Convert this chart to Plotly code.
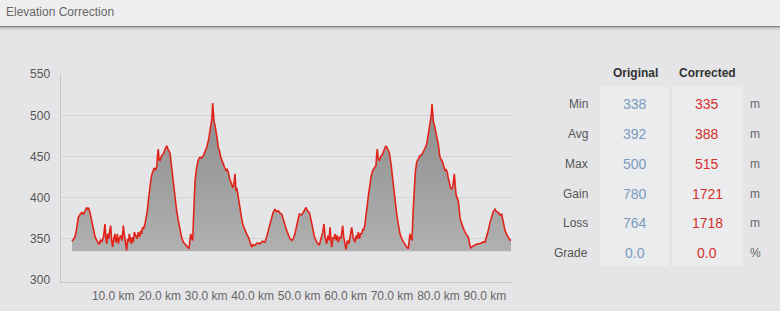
import plotly.graph_objects as go

W, H = 780, 311

# ---- data (distance in km, elevation in m) ----
dist_km = [
    1.12, 1.45, 1.76, 2.1, 2.48, 2.8, 3.21, 3.6, 3.9, 4.28,
    4.5, 4.7, 4.99, 5.3, 5.70, 6.1, 6.44, 7.00, 7.25, 7.51,
    7.9, 8.22, 8.4, 8.59, 8.8, 9.0, 9.2, 9.45, 9.65, 9.88,
    10.1, 10.37, 10.55, 10.7, 10.9, 11.08, 11.3, 11.6, 11.9, 12.16,
    12.35, 12.5, 12.7, 12.89, 13.1, 13.3, 13.45, 13.6, 13.9, 14.1,
    14.31, 14.55, 14.8, 15.1, 15.39, 15.7, 15.9, 16.12, 16.3, 16.5,
    16.83, 17.1, 17.33, 17.55, 17.76, 18.1, 18.3, 18.49, 18.8, 19.1,
    19.35, 19.55, 19.69, 19.85, 20.06, 20.4, 20.77, 21.1, 21.5, 21.8,
    22.21, 22.5, 22.92, 23.3, 23.65, 24.0, 24.36, 24.7, 25.08, 25.4,
    25.81, 26.0, 26.3, 26.5, 26.67, 26.9, 27.1, 27.25, 27.38, 27.6,
    27.96, 28.3, 28.67, 29.0, 29.38, 29.7, 30.11, 30.5, 30.82, 31.05,
    31.25, 31.4, 31.5, 31.68, 31.9, 32.11, 32.3, 32.61, 32.9, 33.13,
    33.4, 33.69, 34.0, 34.27, 34.5, 34.76, 35.13, 35.4, 35.71, 35.95,
    36.2, 36.3, 36.42, 36.6, 36.91, 37.1, 37.28, 37.6, 37.86, 38.1,
    38.36, 38.7, 39.07, 39.4, 39.8, 40.1, 40.51, 41.0, 41.58, 42.1,
    42.66, 43.0, 43.37, 43.7, 44.1, 44.4, 44.81, 45.1, 45.52, 45.9,
    46.26, 46.6, 47.0, 47.33, 47.7, 48.04, 48.4, 48.75, 49.1, 49.48,
    49.8, 50.04, 50.5, 50.9, 51.2, 51.49, 51.8, 52.2, 52.6, 52.93,
    53.3, 53.79, 54.1, 54.35, 54.6, 54.86, 55.1, 55.36, 55.6, 55.94,
    56.2, 56.45, 56.65, 56.85, 57.02, 57.3, 57.5, 57.73, 58.0, 58.2,
    58.44, 58.7, 59.0, 59.2, 59.38, 59.6, 59.85, 60.1, 60.4, 60.7,
    60.96, 61.1, 61.32, 61.6, 61.8, 62.03, 62.3, 62.5, 62.74, 63.0,
    63.2, 63.47, 63.7, 63.9, 64.18, 64.4, 64.68, 64.95, 65.26, 65.5,
    65.84, 66.2, 66.55, 66.7, 66.83, 67.0, 67.26, 67.6, 67.99, 68.3,
    68.7, 69.0, 69.41, 69.8, 70.05, 70.28, 70.6, 71.01, 71.4, 71.72,
    72.1, 72.43, 72.8, 73.16, 73.51, 73.7, 73.87, 74.1, 74.3, 74.5,
    74.73, 75.0, 75.31, 75.7, 76.02, 76.4, 76.73, 77.1, 77.47, 77.75,
    78.02, 78.25, 78.46, 78.61, 78.75, 78.89, 79.2, 79.47, 79.7, 79.96,
    80.15, 80.33, 80.6, 80.91, 81.15, 81.4, 81.65, 81.9, 82.1, 82.33,
    82.6, 82.85, 83.1, 83.41, 83.55, 83.77, 84.0, 84.27, 84.45, 84.63,
    84.9, 85.21, 85.55, 85.92, 86.2, 86.42, 86.7, 86.94, 87.4, 87.86,
    88.4, 88.94, 89.5, 90.01, 90.35, 90.72, 91.1, 91.46, 91.8, 92.17,
    92.5, 92.88, 93.25, 93.61, 93.95, 94.32, 94.7, 95.03, 95.3, 95.61,
]
elev_m = [
    347, 349, 352, 362, 376, 379, 382, 380, 384, 388,
    386, 387, 382, 374, 362, 352, 348, 343, 349, 346,
    352, 368, 352, 344, 356, 350, 358, 366, 348, 340,
    350, 356, 346, 348, 356, 344, 350, 354, 348, 366,
    356, 350, 344, 336, 350, 346, 356, 352, 344, 352,
    346, 358, 354, 350, 358, 352, 360, 356, 364, 362,
    368, 376, 384, 396, 408, 422, 428, 431, 436, 434,
    437, 452, 459, 446, 445, 451, 453, 458, 463, 459,
    454, 440, 418, 398, 384, 372, 360, 352, 346, 344,
    342, 340, 338, 348, 356, 350, 348, 372, 396, 420,
    437, 446, 449, 448, 451, 456, 461, 470, 481, 490,
    497, 515, 500, 493, 488, 477, 474, 461, 456, 449,
    446, 441, 436, 433, 435, 431, 421, 418, 412, 416,
    429, 414, 408, 412, 400, 396, 384, 376, 368, 364,
    360, 356, 352, 346, 340, 343, 342, 345, 344, 347,
    346, 352, 360, 368, 376, 382, 386, 383, 384, 381,
    380, 372, 366, 360, 354, 350, 348, 350, 356, 364,
    374, 380, 379, 382, 385, 388, 384, 382, 372, 362,
    352, 346, 344, 342, 348, 352, 358, 368, 352, 344,
    354, 348, 364, 350, 340, 352, 350, 356, 348, 354,
    346, 352, 350, 358, 366, 352, 346, 337, 348, 344,
    352, 358, 364, 352, 350, 346, 354, 350, 358, 350,
    356, 356, 362, 360, 368, 380, 392, 404, 416, 426,
    433, 436, 439, 452, 459, 448, 445, 450, 453, 458,
    463, 460, 455, 440, 426, 412, 396, 380, 366, 356,
    350, 346, 343, 340, 338, 348, 356, 350, 348, 378,
    408, 430, 443, 448, 451, 452, 455, 460, 465, 474,
    485, 494, 501, 514, 500, 493, 486, 479, 472, 465,
    456, 449, 446, 443, 438, 433, 434, 431, 424, 416,
    412, 410, 414, 429, 412, 404, 400, 396, 386, 376,
    370, 364, 360, 356, 354, 352, 344, 339, 341, 342,
    344, 344, 346, 346, 352, 360, 370, 378, 383, 386,
    383, 382, 379, 380, 370, 360, 355, 352, 349, 348,
]
assert len(dist_km) == len(elev_m)
base_m = 335

x_ticks = [10, 20, 30, 40, 50, 60, 70, 80, 90]
x_ticktext = [f"{v:.1f} km" for v in x_ticks]
y_ticks = [300, 350, 400, 450, 500, 550]
grid_vals = [350, 400, 450, 500]

stat_rows = ["Min", "Avg", "Max", "Gain", "Loss", "Grade"]
orig_vals = ["338", "392", "500", "780", "764", "0.0"]
corr_vals = ["335", "388", "515", "1721", "1718", "0.0"]
units = ["m", "m", "m", "m", "m", "%"]

# ---- helpers (pixel -> paper), compensating the observed vertical mapping ----
Y_OFF, Y_SPAN = 5.95, 299.8

def px(x):
    return x / W

def py(y):
    return 1 - (y - Y_OFF) / Y_SPAN

FONT = "Liberation Sans, Arial, sans-serif"

fig = go.Figure()
fig.add_trace(go.Scatter(x=dist_km, y=[base_m] * len(dist_km), mode="lines",
                         line=dict(width=0, color="rgba(0,0,0,0)"), hoverinfo="skip", showlegend=False))
fig.add_trace(go.Scatter(x=dist_km, y=elev_m, mode="lines", fill="tonexty",
                         fillgradient=dict(type="vertical", colorscale=[[0, "#b2b2b2"], [1, "#8c8c8c"]],
                                           start=base_m, stop=515),
                         line=dict(color="#e2231a", width=1.6), showlegend=False))
fig.add_trace(go.Scatter(x=[dist_km[0]], y=[elev_m[0]], yaxis="y2", mode="markers",
                         marker=dict(opacity=0), hoverinfo="skip", showlegend=False))

x0p, x1p = 60.5, 512
km0, kmpp = 66.8, 4.646
y_top, y_bot = 73.3, 282.1

fig.update_layout(
    width=W, height=H,
    margin=dict(l=0, r=0, t=0, b=0),
    paper_bgcolor="#e5e5e7", plot_bgcolor="rgba(0,0,0,0)",
    font=dict(family=FONT, color="#555"),
    xaxis=dict(domain=[px(x0p), px(x1p)],
               range=[(x0p - km0) / kmpp, (x1p - km0) / kmpp],
               tickvals=x_ticks, ticktext=x_ticktext, showgrid=False, zeroline=False,
               showline=True, linecolor="#c6c6c8", linewidth=1,
               tickfont=dict(size=12, color="#666"), ticks="", ticklabelstandoff=2),
    yaxis=dict(domain=[py(y_bot), py(y_top)], range=[297, 550], tickvals=y_ticks,
               showgrid=False, zeroline=False, showline=True, linecolor="#c6c6c8", linewidth=1,
               tickfont=dict(size=12, color="#555"), ticks="", ticklabelstandoff=7),
    yaxis2=dict(overlaying="y", range=[297, 550], tickvals=grid_vals, showgrid=True,
                gridcolor="#d3d3d5", gridwidth=1, showticklabels=False, zeroline=False, showline=False),
)

shapes = []
shapes.append(dict(type="rect", xref="paper", yref="paper", x0=0, x1=1, y0=py(25), y1=py(-10),
                   fillcolor="#eeeeef", line=dict(width=0), layer="below"))
for i, c in enumerate(["#8a8a8c", "#b4b4b6", "#cfcfd1", "#dadadc", "#e0e0e2"]):
    shapes.append(dict(type="line", xref="paper", yref="paper", x0=0, x1=1,
                       y0=py(25.5 + i), y1=py(25.5 + i), line=dict(color=c, width=1), layer="below"))
for xa, xb in [(600, 669), (672, 742)]:
    shapes.append(dict(type="rect", xref="paper", yref="paper", x0=px(xa), x1=px(xb),
                       y0=py(266), y1=py(86), fillcolor="#ebecee", line=dict(width=0), layer="below"))
fig.update_layout(shapes=shapes)

ann = []
ann.append(dict(text="Elevation Correction", xref="paper", yref="paper", x=px(4), y=py(11),
                xanchor="left", yanchor="middle", showarrow=False, font=dict(size=12, color="#666")))
ann.append(dict(text="<b>Original</b>", xref="paper", yref="paper", x=px(635), y=py(72.5),
                xanchor="center", yanchor="middle", showarrow=False, font=dict(size=12, color="#333")))
ann.append(dict(text="<b>Corrected</b>", xref="paper", yref="paper", x=px(707), y=py(72.5),
                xanchor="center", yanchor="middle", showarrow=False, font=dict(size=12, color="#333")))
for i, (lab, o, c, u) in enumerate(zip(stat_rows, orig_vals, corr_vals, units)):
    yy = py(103 + 30 * i)
    ann.append(dict(text=lab, xref="paper", yref="paper", x=px(589.5), y=yy, xanchor="right",
                    yanchor="middle", showarrow=False, font=dict(size=12, color="#555")))
    ann.append(dict(text=o, xref="paper", yref="paper", x=px(635), y=yy, xanchor="center",
                    yanchor="middle", showarrow=False, font=dict(size=14, color="#7b9bbf")))
    ann.append(dict(text=c, xref="paper", yref="paper", x=px(707), y=yy, xanchor="center",
                    yanchor="middle", showarrow=False, font=dict(size=14, color="#d8302b")))
    ann.append(dict(text=u, xref="paper", yref="paper", x=px(755), y=yy, xanchor="center",
                    yanchor="middle", showarrow=False, font=dict(size=12, color="#666")))
fig.update_layout(annotations=ann)

fig.write_html("out.html", config={"displayModeBar": False})
